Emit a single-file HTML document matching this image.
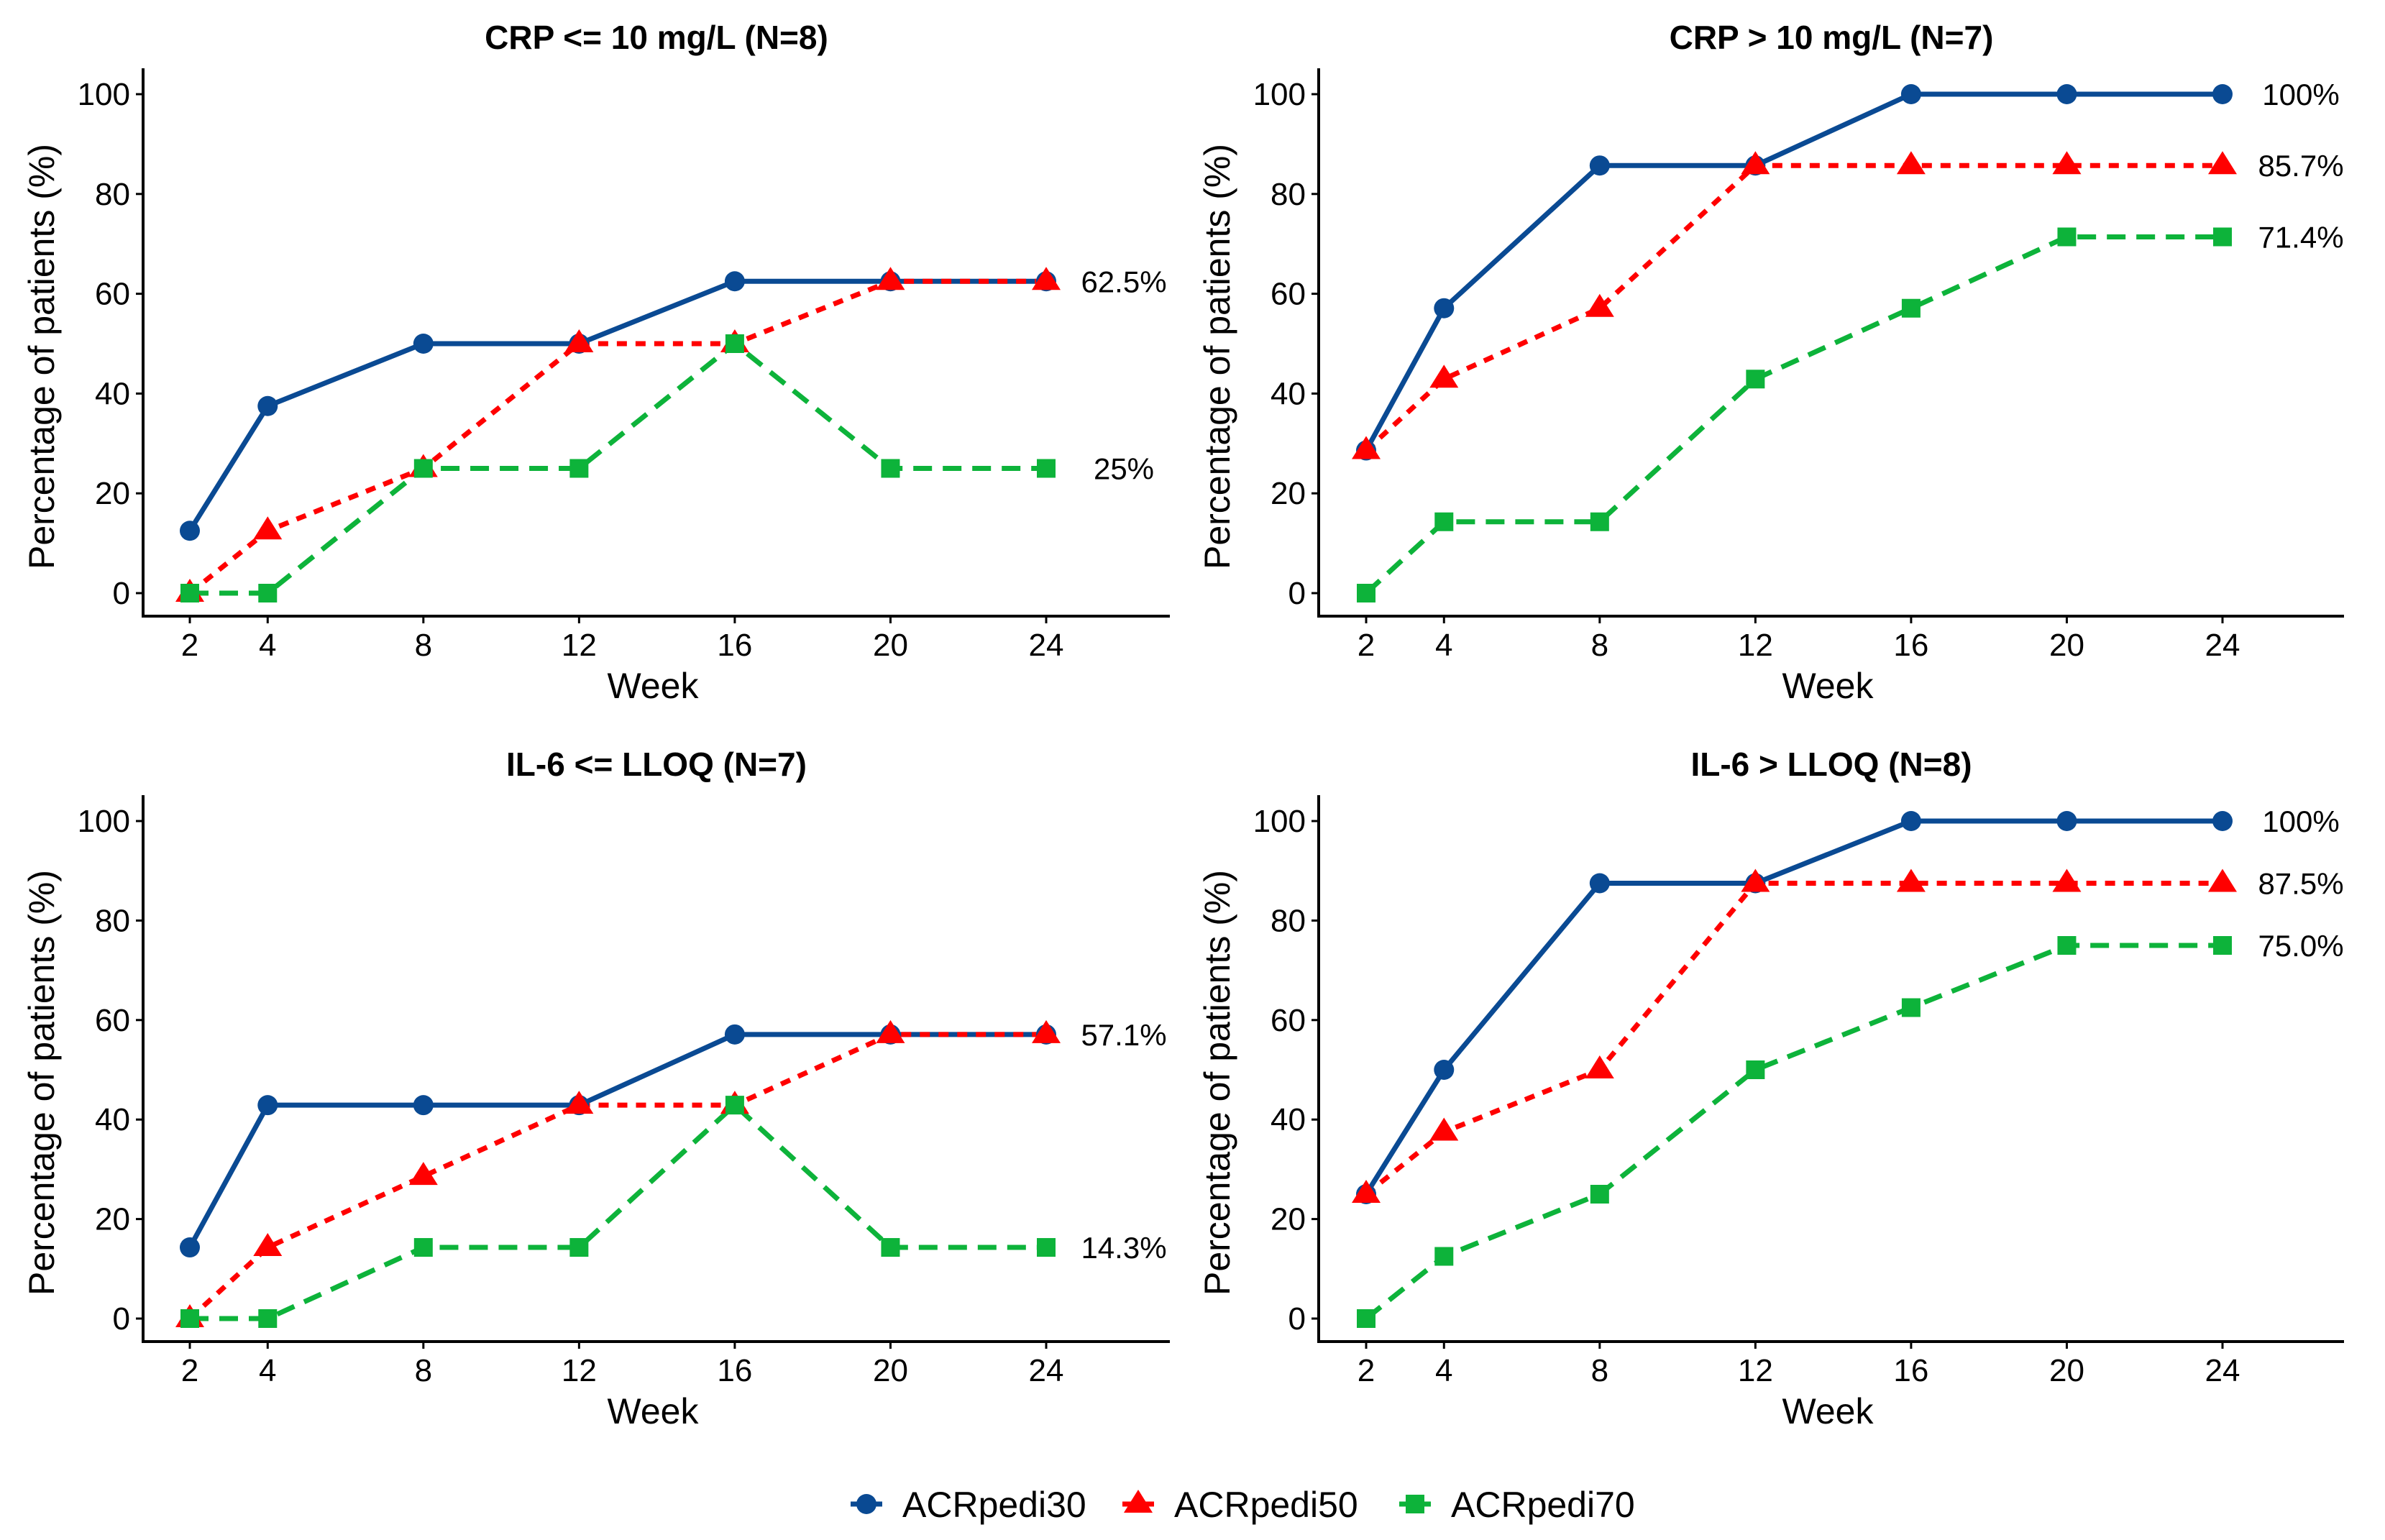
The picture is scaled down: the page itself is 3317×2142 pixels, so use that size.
<!DOCTYPE html>
<html><head><meta charset="utf-8"><style>
html,body{margin:0;padding:0;background:#fff;}
svg{display:block;font-family:"Liberation Sans",sans-serif;}
</style></head><body>
<svg id="chart" width="3317" height="2142" viewBox="0 0 3317 2142" xmlns="http://www.w3.org/2000/svg"></svg>
<script>
const weeks = [2,4,8,12,16,20,24];
const yTicks = [0,20,40,60,80,100];
const seriesNames = ["ACRpedi30","ACRpedi50","ACRpedi70"];
const panelTitles = ["CRP <= 10 mg/L (N=8)","CRP > 10 mg/L (N=7)","IL-6 <= LLOQ (N=7)","IL-6 > LLOQ (N=8)"];
const p1_30 = [12.5,37.5,50,50,62.5,62.5,62.5];
const p1_50 = [0,12.5,25,50,50,62.5,62.5];
const p1_70 = [0,0,25,25,50,25,25];
const p2_30 = [28.6,57.1,85.7,85.7,100,100,100];
const p2_50 = [28.6,42.9,57.1,85.7,85.7,85.7,85.7];
const p2_70 = [0,14.3,14.3,42.9,57.1,71.4,71.4];
const p3_30 = [14.3,42.9,42.9,42.9,57.1,57.1,57.1];
const p3_50 = [0,14.3,28.6,42.9,42.9,57.1,57.1];
const p3_70 = [0,0,14.3,14.3,42.9,14.3,14.3];
const p4_30 = [25,50,87.5,87.5,100,100,100];
const p4_50 = [25,37.5,50,87.5,87.5,87.5,87.5];
const p4_70 = [0,12.5,25,50,62.5,75,75];
const p1_labels = [["62.5%",62.5],["25%",25]];
const p2_labels = [["100%",100],["85.7%",85.7],["71.4%",71.4]];
const p3_labels = [["57.1%",57.1],["14.3%",14.3]];
const p4_labels = [["100%",100],["87.5%",87.5],["75.0%",75.0]];

const NS="http://www.w3.org/2000/svg";
const svg=document.getElementById('chart');
function mk(tag,attrs,parent){const e=document.createElementNS(NS,tag);for(const k in attrs)e.setAttribute(k,attrs[k]);(parent||svg).appendChild(e);return e;}
const colors=["#0A4A93","#FF0000","#0DB33A"];
const dashes=["none","14 12","26 15"];

function marker(g,type,x,y,c){
  let m;
  if(type===0){m=mk('circle',{cx:x,cy:y,r:14,fill:c},g);}
  else if(type===1){m=mk('polygon',{points:`${x},${y-20} ${x-20},${y+12} ${x+20},${y+12}`,fill:c},g);}
  else{m=mk('rect',{x:x-13,y:y-13,width:26,height:26,fill:c},g);}
  return m;
}

const panels=[
 {ax:199,top:95,bot:857,y0:825,y100:131,x2:264,x24:1455,xe:1627,lx:1563,data:[p1_30,p1_50,p1_70],labels:p1_labels},
 {ax:1834,top:95,bot:857,y0:825,y100:131,x2:1900,x24:3091,xe:3260,lx:3200,data:[p2_30,p2_50,p2_70],labels:p2_labels},
 {ax:199,top:1106,bot:1866,y0:1834,y100:1142,x2:264,x24:1455,xe:1627,lx:1563,data:[p3_30,p3_50,p3_70],labels:p3_labels},
 {ax:1834,top:1106,bot:1866,y0:1834,y100:1142,x2:1900,x24:3091,xe:3260,lx:3200,data:[p4_30,p4_50,p4_70],labels:p4_labels}
];
panels.forEach((p,pi)=>{
  const g=mk('g',{});
  
  
  const X=w=>p.x2+(w-2)/22*(p.x24-p.x2);
  const Y=v=>p.y0+(v/100)*(p.y100-p.y0);
  const cx=(p.ax+p.xe)/2;
  const t=mk('text',{x:cx,y:p.top-27,'text-anchor':'middle','font-size':46,'font-weight':'bold'},g);
  t.textContent=panelTitles[pi];
  
  
  const ya=mk('line',{x1:p.ax,y1:p.top,x2:p.ax,y2:p.bot+2,stroke:'#000','stroke-width':4},g);
  
  
  const xa=mk('line',{x1:p.ax-2,y1:p.bot,x2:p.xe,y2:p.bot,stroke:'#000','stroke-width':4},g);
  
  
  yTicks.forEach(v=>{
    mk('line',{x1:p.ax-10,y1:Y(v),x2:p.ax,y2:Y(v),stroke:'#000','stroke-width':3},g);
    const tl=mk('text',{x:p.ax-18,y:Y(v)+15,'text-anchor':'end','font-size':44},g);
    tl.textContent=v;
    
    
  });
  weeks.forEach(w=>{
    mk('line',{x1:X(w),y1:p.bot,x2:X(w),y2:p.bot+10,stroke:'#000','stroke-width':3},g);
    const tl=mk('text',{x:X(w),y:p.bot+55,'text-anchor':'middle','font-size':44},g);
    tl.textContent=w;
    
    
  });
  const xt=mk('text',{x:(p.ax+p.xe)/2-5,y:p.bot+114,'text-anchor':'middle','font-size':50},g);
  xt.textContent='Week';
  
  
  const yc=(p.top+p.bot)/2+20;
  const yt=mk('text',{x:0,y:0,'text-anchor':'middle','font-size':50,transform:`translate(${p.ax-124},${yc}) rotate(-90)`},g);
  yt.textContent='Percentage of patients (%)';
  
  
  p.data.forEach((arr,si)=>{
    const pts=arr.map((v,i)=>X(weeks[i])+','+Y(v)).join(' ');
    const attrs={points:pts,fill:'none',stroke:colors[si],'stroke-width':7};
    if(dashes[si]!=='none')attrs['stroke-dasharray']=dashes[si];
    const pl=mk('polyline',attrs,g);
    
    
  });
  p.data.forEach((arr,si)=>{
    arr.forEach((v,i)=>{
      const m=marker(g,si,X(weeks[i]),Y(v),colors[si]);
      
      
    });
  });
  p.labels.forEach(l=>{
    const tl=mk('text',{x:p.lx,y:Y(l[1])+15,'text-anchor':'middle','font-size':42},g);
    tl.textContent=l[0];
    
    
  });
});
const lg=mk('g',{});


const legX=[1205,1583,1968];
seriesNames.forEach((n,si)=>{
  const eg=mk('g',{},lg);
  
  
  const lx=legX[si], ly=2092;
  mk('line',{x1:lx-22,y1:ly,x2:lx+22,y2:ly,stroke:colors[si],'stroke-width':7},eg);
  marker(eg,si,lx,ly,colors[si]);
  const t=mk('text',{x:lx+50,y:ly+18,'font-size':50},eg);
  t.textContent=n;
});
</script>
</body></html>
